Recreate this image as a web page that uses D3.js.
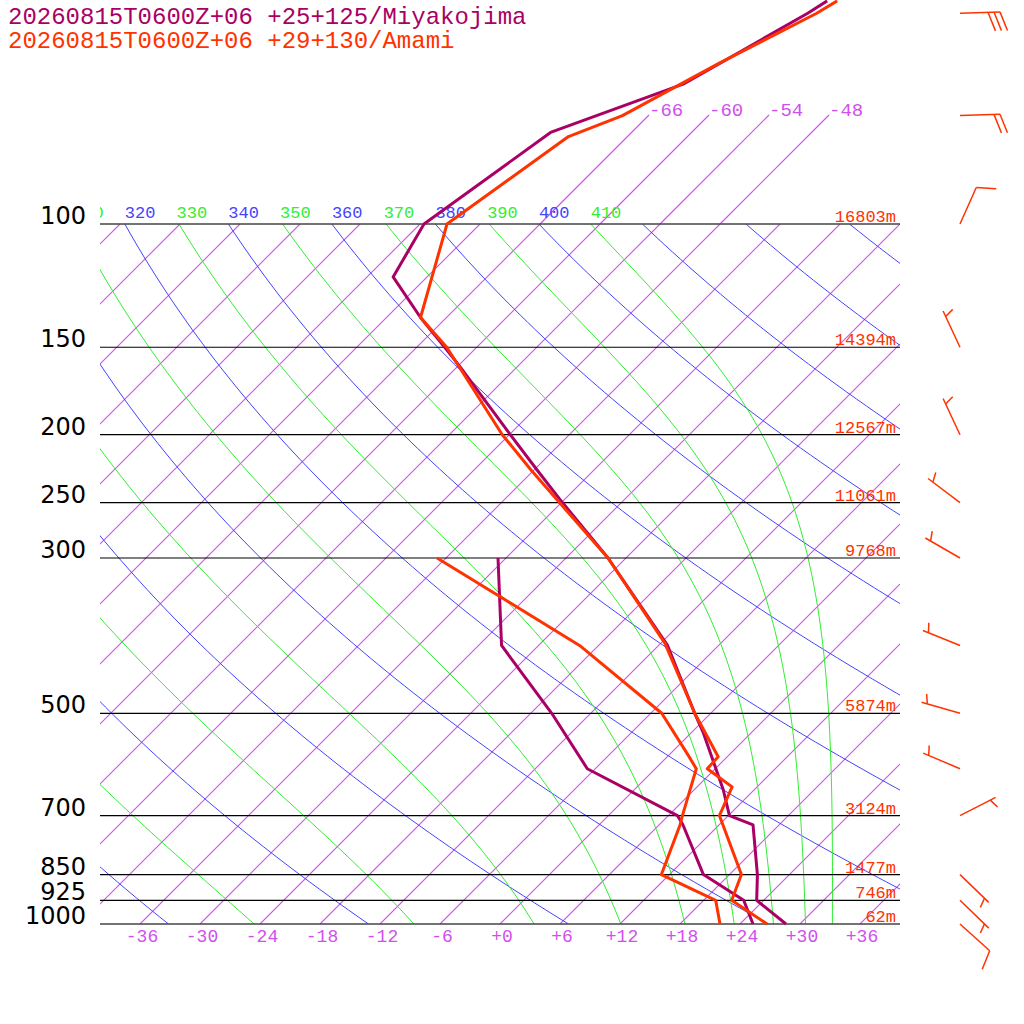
<!DOCTYPE html>
<html>
<head>
<meta charset="utf-8">
<script src="https://cdn.jsdelivr.net/npm/d3@7"></script>
<style>
  body { margin: 0; background: #fff; }
  svg text { font-family: "Liberation Mono", "DejaVu Sans Mono", monospace; }
  .iso { stroke: #d050ee; stroke-width: 1.1; fill: none; }
</style>
</head>
<body>
<svg id="chart" width="1024" height="1024"></svg>
<script>
// levels & labels
const pressureLevels = [100, 150, 200, 250, 300, 500, 700, 850, 925, 1000];
const heightLabels = ['16803m', '14394m', '12567m', '11061m', '9768m', '5874m', '3124m', '1477m', '746m', '62m'];
const tempTicks = [-36, -30, -24, -18, -12, -6, 0, 6, 12, 18, 24, 30, 36];
const topIsotherms = [-66, -60, -54, -48];
const dryThetas = [240, 260, 280, 300, 320, 340, 360, 380, 400, 420, 440, 460, 480, 500];
const moistThetaE = [230, 250, 270, 290, 310, 330, 350, 370, 390, 410];
const labelledThetas = [310, 320, 330, 340, 350, 360, 370, 380, 390, 400, 410];

// Miyakojima
const miyaTempP = [48, 50, 63, 74, 100, 119, 136, 150, 160, 200, 225, 250, 300, 400, 500, 533, 643, 700, 722, 850, 925, 1000];
const miyaTemp  = [-59.6, -60.3, -65.6, -74.1, -77.6, -75.4, -68.6, -63.2, -59.7, -47.9, -41.6, -35.9, -25.8, -11.1, -1.6, 1.2, 8.9, 12.1, 15.4, 20.8, 23.3, 28.6];
const miyaDewP  = [300, 400, 500, 600, 700, 722, 850, 925, 1000];
const miyaDew   = [-36.8, -27.7, -15.9, -6.8, 6.9, 8.4, 15.4, 22.0, 25.3];

// Amami
const amamiTempP = [48, 50, 59, 70, 75, 100, 136, 150, 200, 225, 250, 300, 397, 500, 577, 600, 637, 700, 850, 925, 1000];
const amamiTemp  = [-58.6, -59.4, -64.2, -68.6, -71.9, -75.3, -68.6, -63.0, -48.7, -42.2, -36.2, -25.8, -11.6, -1.6, 5.1, 5.2, 9.5, 11.1, 19.2, 20.8, 26.7];
const amamiDewP  = [300, 400, 500, 570, 600, 700, 722, 850, 925, 1000];
const amamiDew   = [-42.9, -19.9, -4.9, 1.6, 4.1, 7.4, 8.1, 11.2, 19.2, 22.0];

// Amami winds
const windP   = [50, 70, 100, 150, 200, 250, 300, 400, 500, 600, 700, 850, 925, 1000];
const windDir = [88, 88, 24, 335, 335, 307, 300, 292, 286, 293, 63, 134, 134, 132];
const windKt  = [30, 20, 10, 5, 5, 5, 5, 5, 5, 5, 5, 5, 5, 10];

const MIYA = '#aa0066', AMAMI = '#ff3300';
const ISO = '#d050ee', BLUE = '#4444ff', GREEN = '#33ee33';

const svg = d3.select('#chart');
const y = d3.scaleLog().domain([100, 1000]).range([224, 924]);
const xT = d3.scaleLinear().domain([-40, 40]).range([100, 900]);
const sx = (T, p) => xT(T) + (924 - y(p));

const defs = svg.append('defs');
defs.append('clipPath').attr('id', 'plot').append('rect').attr('x', 100).attr('y', 224).attr('width', 800).attr('height', 700);
defs.append('clipPath').attr('id', 'upper').append('rect').attr('x', 100).attr('y', 110).attr('width', 800).attr('height', 814);
defs.append('clipPath').attr('id', 'lbl').append('rect').attr('x', 100).attr('y', 190).attr('width', 800).attr('height', 40);

const line = d3.line().x(d => d[0]).y(d => d[1]);
const logPs = d3.range(0, 101).map(i => 100 * Math.pow(10, i / 100));

// isotherms
const gIso = svg.append('g').attr('clip-path', 'url(#plot)');
d3.range(-156, 37, 6).forEach(T => {
  gIso.append('path').attr('class', 'iso').attr('d', line([[sx(T, 100), y(100)], [sx(T, 1000), y(1000)]]));
});
const gUp = svg.append('g').attr('clip-path', 'url(#upper)');
topIsotherms.forEach(T => {
  const yTop = 115, xTop = xT(T) + (924 - yTop);
  gUp.append('path').attr('class', 'iso').attr('d', line([[xTop, yTop], [sx(T, 100), y(100)]]));
  svg.append('text').attr('x', xTop).attr('y', 116).attr('fill', ISO).attr('font-size', 19).text(T);
});

// dry adiabats
const gDry = svg.append('g').attr('clip-path', 'url(#plot)');
dryThetas.forEach(th => {
  const pts = logPs.map(p => [sx(th * Math.pow(p / 1000, 0.286) - 273.15, p), y(p)]);
  gDry.append('path').attr('d', line(pts)).attr('fill', 'none').attr('stroke', BLUE).attr('stroke-width', 1);
});

// moist adiabats (Bolton theta-e, saturated)
function thetaE(Tk, p) {
  const Tc = Tk - 273.15;
  const es = 6.112 * Math.exp(17.67 * Tc / (Tc + 243.5));
  const r = 622 * es / Math.max(p - es, 1);
  return Tk * Math.pow(1000 / p, 0.2854 * (1 - 0.00028 * r)) * Math.exp((3.376 / Tk - 0.00254) * r * (1 + 0.00081 * r));
}
function solveT(te, p) {
  let lo = 120, hi = 330;
  for (let i = 0; i < 50; i++) {
    const mid = (lo + hi) / 2;
    if (thetaE(mid, p) > te) hi = mid; else lo = mid;
  }
  return (lo + hi) / 2;
}
const gMoist = svg.append('g').attr('clip-path', 'url(#plot)');
moistThetaE.forEach(te => {
  const pts = logPs.map(p => [sx(solveT(te, p) - 273.15, p), y(p)]);
  gMoist.append('path').attr('d', line(pts)).attr('fill', 'none').attr('stroke', GREEN).attr('stroke-width', 1);
});

// adiabat labels
const gLbl = svg.append('g').attr('clip-path', 'url(#lbl)');
labelledThetas.forEach(th => {
  const tK = th * Math.pow(0.1, 0.286);
  gLbl.append('text').attr('x', sx(tK - 273.15, 100)).attr('y', 218)
    .attr('fill', th % 20 === 0 ? BLUE : GREEN).attr('font-size', 17).text(th);
});

// pressure lines and labels
pressureLevels.forEach((p, i) => {
  const edge = p === 100 || p === 1000;
  svg.append('line').attr('x1', 100).attr('x2', 900).attr('y1', y(p)).attr('y2', y(p))
    .attr('stroke', edge ? '#444' : '#000').attr('stroke-width', edge ? 1.6 : 1.2);
  svg.append('text').attr('x', 86).attr('y', y(p)).attr('text-anchor', 'end')
    .attr('font-size', 24).style('font-family', '"DejaVu Sans", sans-serif')
    .attr('fill', '#000').text(p);
  svg.append('text').attr('x', 896).attr('y', y(p) - 2).attr('text-anchor', 'end')
    .attr('font-size', 17).attr('fill', AMAMI).text(heightLabels[i]);
});

// bottom temperature ticks
tempTicks.forEach(T => {
  svg.append('text').attr('x', xT(T) + 2).attr('y', 942).attr('text-anchor', 'middle')
    .attr('font-size', 18).attr('fill', ISO).text(T >= 0 ? '+' + T : T);
});

// profiles
function profile(ps, ts, color) {
  const pts = ps.map((p, i) => [sx(ts[i], p), y(p)]);
  svg.append('path').attr('d', line(pts)).attr('fill', 'none').attr('stroke', color)
    .attr('stroke-width', 3).attr('stroke-linejoin', 'round');
}
profile(miyaTempP, miyaTemp, MIYA);
profile(miyaDewP, miyaDew, MIYA);
profile(amamiTempP, amamiTemp, AMAMI);
profile(amamiDewP, amamiDew, AMAMI);

// wind barbs
const gW = svg.append('g').attr('stroke', AMAMI).attr('stroke-width', 1.5).attr('fill', 'none');
windP.forEach((p, i) => {
  const x0 = 960, y0 = y(p), L = 40;
  const a = windDir[i] * Math.PI / 180;
  const ux = Math.sin(a), uy = -Math.cos(a);
  const b = 70 * Math.PI / 180;
  const bx = ux * Math.cos(b) - uy * Math.sin(b), by = ux * Math.sin(b) + uy * Math.cos(b);
  gW.append('line').attr('x1', x0).attr('y1', y0).attr('x2', x0 + ux * L).attr('y2', y0 + uy * L);
  let spd = windKt[i], pos = L;
  if (spd < 10) pos = L - 6;
  while (spd >= 10) {
    const px = x0 + ux * pos, py = y0 + uy * pos;
    gW.append('line').attr('x1', px).attr('y1', py).attr('x2', px + bx * 20).attr('y2', py + by * 20);
    spd -= 10; pos -= 6;
  }
  if (spd >= 5) {
    const px = x0 + ux * pos, py = y0 + uy * pos;
    gW.append('line').attr('x1', px).attr('y1', py).attr('x2', px + bx * 10).attr('y2', py + by * 10);
  }
});

// titles
svg.append('text').attr('x', 8).attr('y', 24).attr('font-size', 24).attr('fill', MIYA).text('20260815T0600Z+06 +25+125/Miyakojima');
svg.append('text').attr('x', 8).attr('y', 48).attr('font-size', 24).attr('fill', AMAMI).text('20260815T0600Z+06 +29+130/Amami');
</script>
</body>
</html>
